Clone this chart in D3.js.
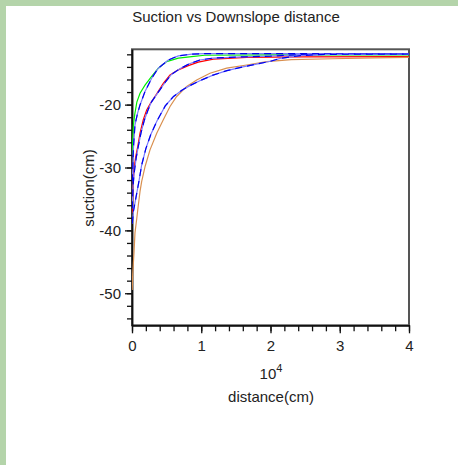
<html lang="en">
<head>
  <meta charset="UTF-8">
  <title>Suction vs Downslope distance</title>
  <script src="https://d3js.org/d3.v7.min.js"></script>
</head>
<style>
  body { margin: 0; background: #b4d4aa; }
  text { font-family: "Liberation Sans", Arial, sans-serif; fill: #222; }
  .axis .domain { stroke: #111; stroke-width: 1.5px; }
  .axis line { stroke: #111; stroke-width: 1.3px; }
  .axis text { font-size: 15px; }
</style>
<body>
  <svg class="chart" width="458" height="465"></svg>
  <script>
    // distance is in units of 10^4 cm, suction in cm
    const xTickLabels = [0, 1, 2, 3, 4];
    const yTickLabels = [-20, -30, -40, -50];

    const greenSeries = [[0.003, -28], [0.01, -25.5], [0.02, -23.3], [0.04, -21.5], [0.07, -19.6], [0.116, -18.2],
      [0.188, -16.9], [0.284, -15.5], [0.38, -14.2], [0.5, -13.15], [0.669, -12.6], [0.862, -12.35],
      [1.05, -12.15], [2, -12.1], [4, -12.1]];
    const redSeries = [[0.003, -37.2], [0.01, -35], [0.019, -32], [0.033, -29.9], [0.053, -28.3], [0.082, -26.7],
      [0.116, -24.55], [0.163, -22.4], [0.212, -20.85], [0.26, -19.9], [0.357, -18.3], [0.452, -16.6],
      [0.549, -15.27], [0.669, -14.47], [0.813, -13.8], [0.957, -13.25], [1.174, -12.77], [1.656, -12.5],
      [2.43, -12.4], [4, -12.35]];
    const orangeSeries = [[0.003, -49.5], [0.01, -47], [0.029, -43.5], [0.043, -40.4], [0.068, -38.2], [0.091, -36],
      [0.116, -33.8], [0.14, -32.2], [0.19, -29.8], [0.26, -27.2], [0.357, -24.55], [0.452, -22.4],
      [0.549, -20.3], [0.645, -18.7], [0.79, -17.1], [0.934, -16.07], [1.126, -15.0], [1.367, -14.2],
      [1.656, -13.7], [1.945, -13.15], [2.3, -12.85], [2.9, -12.7], [3.5, -12.55], [4, -12.5]];
    const blue1Series = [[0.005, -32.2], [0.02, -27], [0.043, -23.2], [0.08, -21.4], [0.116, -20.05], [0.188, -17.9],
      [0.284, -15.8], [0.38, -14.2], [0.524, -12.9], [0.669, -12.25], [0.862, -11.97], [1.05, -11.88], [4, -11.9]];
    const blue2Series = [[0.004, -36.5], [0.015, -33], [0.03, -31], [0.06, -28.5], [0.09, -26.7], [0.13, -24.5],
      [0.18, -22.4], [0.23, -20.9], [0.28, -19.6], [0.38, -18.0], [0.47, -16.6], [0.57, -15.2], [0.69, -14.3],
      [0.83, -13.5], [0.98, -12.9], [1.17, -12.6], [1.6, -12.4], [2.0, -12.3], [2.4, -12.05], [4, -11.95]];
    const blue3Series = [[0.004, -38.9], [0.02, -37], [0.045, -35.5], [0.07, -34], [0.1, -32.2], [0.14, -29.6],
      [0.2, -27], [0.27, -24.8], [0.36, -22.6], [0.48, -20.2], [0.6, -18.7], [0.72, -17.7], [0.85, -16.9],
      [0.98, -16.2], [1.17, -15.3], [1.37, -14.6], [1.6, -14.0], [1.8, -13.55], [2.0, -13.1], [2.14, -12.65],
      [2.43, -12.2], [2.8, -12.0], [4, -11.95]];

    const svg = d3.select('svg.chart');
    const plot = { left: 132, right: 409, top: 49.3, bottom: 325.3 };

    // white sheet over the green page background
    svg.append('rect').attr('x', 6).attr('y', 6).attr('width', 452).attr('height', 459).attr('fill', '#fff');

    const x = d3.scaleLinear().domain([0, 4]).range([plot.left, plot.right]);
    const y = d3.scaleLinear().domain([-55.1, -11.2]).range([plot.bottom, plot.top]);

    svg.append('text')
      .attr('x', 236).attr('y', 21.5)
      .attr('text-anchor', 'middle')
      .style('font-size', '15px')
      .text('Suction vs Downslope distance');

    // frame (top and right sides)
    svg.append('rect')
      .attr('x', plot.left).attr('y', plot.top)
      .attr('width', plot.right - plot.left).attr('height', plot.bottom - plot.top)
      .attr('fill', 'none').attr('stroke', '#555').attr('stroke-width', 2);

    // minor ticks
    svg.append('g').attr('class', 'axis')
      .attr('transform', `translate(${plot.left},0)`)
      .call(d3.axisLeft(y).tickValues(d3.range(-54, -11, 2)).tickSize(5).tickSizeOuter(0).tickFormat(''));
    svg.append('g').attr('class', 'axis')
      .attr('transform', `translate(0,${plot.bottom})`)
      .call(d3.axisBottom(x).tickValues(d3.range(0, 4.01, 0.2)).tickSize(6).tickSizeOuter(0).tickFormat(''));

    // labelled ticks
    svg.append('g').attr('class', 'axis')
      .attr('transform', `translate(${plot.left},0)`)
      .call(d3.axisLeft(y).tickValues(yTickLabels).tickSize(7).tickSizeOuter(0).tickPadding(4).tickFormat(d => String(d)));
    svg.append('g').attr('class', 'axis')
      .attr('transform', `translate(0,${plot.bottom})`)
      .call(d3.axisBottom(x).tickValues(xTickLabels).tickSize(8).tickSizeOuter(0).tickPadding(7).tickFormat(d => String(d)));

    // exponent and axis titles
    const expo = svg.append('text').attr('x', 271).attr('y', 378.5).attr('text-anchor', 'middle').style('font-size', '15px');
    expo.append('tspan').text('10');
    expo.append('tspan').attr('dy', -7).style('font-size', '11px').text('4');

    svg.append('text')
      .attr('x', 271).attr('y', 402)
      .attr('text-anchor', 'middle')
      .style('font-size', '15px')
      .text('distance(cm)');

    svg.append('text')
      .attr('transform', 'translate(94,188) rotate(-90)')
      .attr('text-anchor', 'middle')
      .style('font-size', '15px')
      .text('suction(cm)');

    svg.append('clipPath').attr('id', 'clip')
      .append('rect')
      .attr('x', plot.left).attr('y', plot.top)
      .attr('width', plot.right - plot.left).attr('height', plot.bottom - plot.top);

    const line = d3.line().x(d => x(d[0])).y(d => y(d[1]));
    const curves = svg.append('g').attr('clip-path', 'url(#clip)');

    [[greenSeries, '#00ee00'], [redSeries, '#ff0000'], [orangeSeries, '#d99050']].forEach(s => {
      curves.append('path')
        .datum(s[0])
        .attr('d', line)
        .attr('fill', 'none')
        .attr('stroke', s[1])
        .attr('stroke-width', 1.2);
    });

    // blue curves: light blue with darker dashes on top, like the original
    [blue1Series, blue2Series, blue3Series].forEach(s => {
      curves.append('path')
        .datum(s)
        .attr('d', line)
        .attr('fill', 'none')
        .attr('stroke', '#7a7aff')
        .attr('stroke-width', 1.2);
      curves.append('path')
        .datum(s)
        .attr('d', line)
        .attr('fill', 'none')
        .attr('stroke', '#0000ee')
        .attr('stroke-width', 1.2)
        .attr('stroke-dasharray', '7,5');
    });
  </script>
</body>
</html>
